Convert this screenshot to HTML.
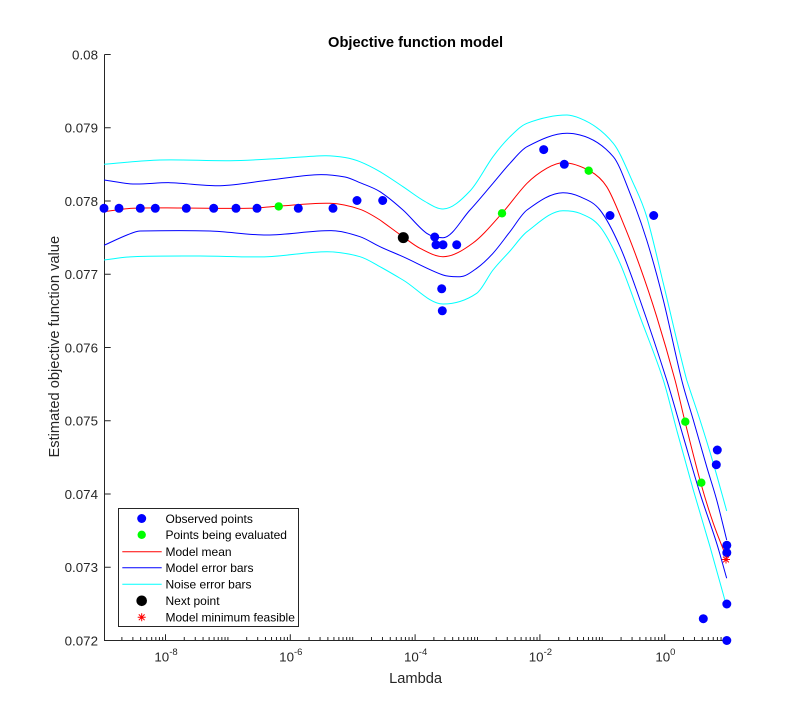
<!DOCTYPE html>
<html><head><meta charset="utf-8"><style>
html,body{margin:0;padding:0;background:#fff;}
svg{display:block;}
text{font-family:"Liberation Sans",Arial,sans-serif;fill:#262626;}
</style></head><body>
<svg width="803" height="720" viewBox="0 0 803 720" xmlns="http://www.w3.org/2000/svg">
<rect width="803" height="720" fill="#fff"/>
<g stroke="#262626" stroke-width="1" fill="none">
<path d="M104.5,54.5 V640.5 H727"/>
<path d="M104.5,54.5h6.2M104.5,127.75h6.2M104.5,201h6.2M104.5,274.25h6.2M104.5,347.5h6.2M104.5,420.75h6.2M104.5,494h6.2M104.5,567.25h6.2"/>
<path d="M165.5,640.5v-6.2M290.3,640.5v-6.2M415.1,640.5v-6.2M539.9,640.5v-6.2M664.7,640.5v-6.2"/>
<path d="M121.88,640.5v-3.5M132.87,640.5v-3.5M140.67,640.5v-3.5M146.72,640.5v-3.5M151.66,640.5v-3.5M155.83,640.5v-3.5M159.45,640.5v-3.5M162.64,640.5v-3.5
M184.28,640.5v-3.5M195.27,640.5v-3.5M203.07,640.5v-3.5M209.12,640.5v-3.5M214.06,640.5v-3.5M218.23,640.5v-3.5M221.85,640.5v-3.5M225.04,640.5v-3.5
M227.9,640.5v-3.5M246.68,640.5v-3.5M257.67,640.5v-3.5M265.47,640.5v-3.5M271.52,640.5v-3.5M276.46,640.5v-3.5M280.63,640.5v-3.5M284.25,640.5v-3.5M287.44,640.5v-3.5
M309.08,640.5v-3.5M320.07,640.5v-3.5M327.87,640.5v-3.5M333.92,640.5v-3.5M338.86,640.5v-3.5M343.03,640.5v-3.5M346.65,640.5v-3.5M349.84,640.5v-3.5
M352.7,640.5v-3.5M371.48,640.5v-3.5M382.47,640.5v-3.5M390.27,640.5v-3.5M396.32,640.5v-3.5M401.26,640.5v-3.5M405.43,640.5v-3.5M409.05,640.5v-3.5M412.24,640.5v-3.5
M433.88,640.5v-3.5M444.87,640.5v-3.5M452.67,640.5v-3.5M458.72,640.5v-3.5M463.66,640.5v-3.5M467.83,640.5v-3.5M471.45,640.5v-3.5M474.64,640.5v-3.5
M477.5,640.5v-3.5M496.28,640.5v-3.5M507.27,640.5v-3.5M515.07,640.5v-3.5M521.12,640.5v-3.5M526.06,640.5v-3.5M530.23,640.5v-3.5M533.85,640.5v-3.5M537.04,640.5v-3.5
M558.68,640.5v-3.5M569.67,640.5v-3.5M577.47,640.5v-3.5M583.52,640.5v-3.5M588.46,640.5v-3.5M592.63,640.5v-3.5M596.25,640.5v-3.5M599.44,640.5v-3.5
M602.3,640.5v-3.5M621.08,640.5v-3.5M632.07,640.5v-3.5M639.87,640.5v-3.5M645.92,640.5v-3.5M650.86,640.5v-3.5M655.03,640.5v-3.5M658.65,640.5v-3.5M661.84,640.5v-3.5
M683.48,640.5v-3.5M694.47,640.5v-3.5M702.27,640.5v-3.5M708.32,640.5v-3.5M713.26,640.5v-3.5M717.43,640.5v-3.5M721.05,640.5v-3.5M724.24,640.5v-3.5"/>
</g>
<g font-size="13.33" text-anchor="end">
<text x="98" y="59.3">0.08</text>
<text x="98" y="132.55">0.079</text>
<text x="98" y="205.8">0.078</text>
<text x="98" y="279.05">0.077</text>
<text x="98" y="352.3">0.076</text>
<text x="98" y="425.55">0.075</text>
<text x="98" y="498.8">0.074</text>
<text x="98" y="572.05">0.073</text>
<text x="98" y="645.3">0.072</text>
</g>
<g font-size="13.33" text-anchor="middle">
<text x="166" y="661.5">10<tspan font-size="9.5" dy="-6.5">-8</tspan></text>
<text x="290.8" y="661.5">10<tspan font-size="9.5" dy="-6.5">-6</tspan></text>
<text x="415.6" y="661.5">10<tspan font-size="9.5" dy="-6.5">-4</tspan></text>
<text x="540.4" y="661.5">10<tspan font-size="9.5" dy="-6.5">-2</tspan></text>
<text x="665.4" y="661.5">10<tspan font-size="9.5" dy="-6.5">0</tspan></text>
</g>
<text x="415.6" y="683" font-size="14.67" text-anchor="middle">Lambda</text>
<text x="415.6" y="47" font-size="14.67" font-weight="bold" text-anchor="middle" style="fill:#000">Objective function model</text>
<text transform="translate(59,346.7) rotate(-90)" font-size="14.67" text-anchor="middle">Estimated objective function value</text>

<g fill="none" stroke-width="1">
<path stroke="#00ffff" d="M104,164.3 C122.67,162.87 141.33,160.53 160,160 C183.33,159.33 206.67,160.99 230,160.7 C246.67,160.49 263.33,159.38 280,158.5 C295,157.71 310,155.93 325,155.7 C331.67,155.6 338.33,156.36 345,157.5 C350,158.36 355,159.67 360,161.7 C366.67,164.41 373.33,167.83 380,171.7 C387.67,176.15 395.33,181.63 403,186.7 C410.33,191.55 417.67,197.41 425,201.5 C431,204.85 437,209 443,209 C452,209 461,200.41 470,191 C477.67,182.98 485.33,167.11 493,156.7 C498.67,149.01 504.33,142.27 510,136.7 C515.67,131.14 521.33,125.46 527,123.3 C540.33,118.22 553.67,115 567,115 C571.33,115 575.67,116.57 580,118.3 C591.1,122.74 602.2,129.76 613.3,143.3 C619.97,151.43 626.63,168.65 633.3,183.3 C637.77,193.12 642.23,201.81 646.7,216.7 C652.23,235.14 657.77,260.71 663.3,283.3 C671.1,315.14 678.9,350.94 686.7,380 C691.13,393.88 695.57,406.12 700,420 C704.43,433.88 708.87,448.19 713.3,463.3 C717.77,478.52 722.23,495.1 726.7,511"/>
<path stroke="#00ffff" d="M104,260 C113.67,258.9 123.33,257.1 133,256.7 C155.33,255.77 177.67,256 200,256 C222.33,256 244.67,257.46 267,256.7 C287,256.02 307,251.7 327,251.7 C338,251.7 349,253.59 360,256.7 C366.67,258.59 373.33,263.09 380,266.7 C387.67,270.86 395.33,275.46 403,280 C416.33,287.89 429.67,304 443,304 C454.23,304 465.47,300.94 476.7,293.3 C482.13,289.61 487.57,276.9 493,270 C498.67,262.8 504.33,257.38 510,251 C515.67,244.62 521.33,236.01 527,231.7 C539,222.58 551,210.7 563,210.7 C568.67,210.7 574.33,210.85 580,213.3 C586.67,216.18 593.33,218.37 600,226.7 C606.67,235.03 613.33,248.3 620,263.3 C626.67,278.3 633.33,298.73 640,316.7 C647.77,337.63 655.53,356.02 663.3,380 C667.77,393.79 672.23,413.62 676.7,430 C682.23,450.29 687.77,470.61 693.3,490 C698.87,509.51 704.43,527.25 710,546.7 C715.57,566.15 721.13,586.7 726.7,606.7"/>
<path stroke="#0000ff" d="M104,180 C113.67,181.33 123.33,183.6 133,184 C145.33,184.5 157.67,182.46 170,182.7 C186.67,183.03 203.33,186.15 220,185.7 C236.67,185.25 253.33,181.89 270,180 C285.67,178.22 301.33,175.33 317,174.7 C326.33,174.33 335.67,175.26 345,177 C350,177.93 355,180.6 360,182.7 C366.67,185.5 373.33,187.47 380,191.7 C387.67,196.57 395.33,203.17 403,210 C410.9,217.04 418.8,227.83 426.7,233.3 C432.13,237.06 437.57,237.7 443,237.7 C452,237.7 461,219.79 470,210 C477.67,201.66 485.33,192.25 493,183.3 C498.67,176.68 504.33,169.4 510,163.3 C515.67,157.2 521.33,149.68 527,146.7 C540.33,139.69 553.67,133.3 567,133.3 C571.33,133.3 575.67,133.92 580,135 C591.1,137.78 602.2,143.76 613.3,156.7 C618.87,163.19 624.43,179.42 630,193.3 C635.57,207.18 641.13,222.16 646.7,240 C652.23,257.73 657.77,277.87 663.3,300 C669.43,324.53 675.57,355.47 681.7,380 C685.57,395.47 689.43,406.59 693.3,420 C697.77,435.49 702.23,451.43 706.7,466.7 C710.03,478.1 713.37,487.78 716.7,500 C720.03,512.22 723.37,526.67 726.7,540"/>
<path stroke="#0000ff" d="M104,245.3 C111.67,241.87 119.33,238.04 127,235 C131.33,233.28 135.67,231.21 140,231 C163.33,230.53 186.67,230.27 210,231 C229,231.6 248,235.05 267,235 C289,234.95 311,230.3 333,230.7 C342,230.87 351,233.64 360,236.7 C366.67,238.97 373.33,243.6 380,246.7 C387.67,250.27 395.33,253.26 403,256.7 C416.33,262.69 429.67,270.32 443,275 C448.67,276.99 454.33,276.7 460,276.7 C465.57,276.7 471.13,272.25 476.7,268.3 C482.13,264.45 487.57,259.27 493,253.3 C498.67,247.07 504.33,238.92 510,231.7 C515.67,224.48 521.33,214.17 527,210 C539,201.17 551,192.7 563,192.7 C568.67,192.7 574.33,194.05 580,196.7 C586.67,199.82 593.33,201.67 600,210 C606.67,218.33 613.33,231.7 620,246.7 C626.67,261.7 633.33,280.97 640,300 C648.9,325.4 657.8,351.9 666.7,380 C672.23,397.47 677.77,417.88 683.3,436.7 C688.87,455.64 694.43,475.53 700,493.3 C705.57,511.07 711.13,525.57 716.7,543.3 C720.03,553.91 723.37,566.63 726.7,578.3"/>
<path stroke="#ff0000" d="M104,211.7 C113.67,210.57 123.33,208.77 133,208.3 C148.67,207.54 164.33,208 180,208 C203.33,208 226.67,208.71 250,208.3 C259,208.14 268,206.86 277,206.3 C294.67,205.2 312.33,202.66 330,203.3 C340,203.66 350,205.96 360,209.3 C366.67,211.53 373.33,215.75 380,220 C387.67,225.42 395.33,231.28 403,236.7 C408.67,240.71 414.33,245.47 420,248.3 C427.67,252.13 435.33,256.7 443,256.7 C453,256.7 463,250.36 473,243 C482.67,235.89 492.33,223.99 502,213.3 C510.33,204.09 518.67,191.69 527,183.3 C533.57,176.69 540.13,172.06 546.7,168.3 C552.13,165.19 557.57,162.7 563,162.7 C572,162.7 581,166.06 590,171 C595.57,174.06 601.13,177.96 606.7,186.7 C612.23,195.39 617.77,210.01 623.3,223.3 C628.87,236.67 634.43,251.13 640,266.7 C645.57,282.27 651.13,298.68 656.7,316.7 C662.8,336.45 668.9,357.37 675,380 C678.33,392.37 681.67,408.38 685,421.7 C690.23,442.61 695.47,463.91 700.7,482.7 C704.9,497.78 709.1,511.14 713.3,523.3 C717.77,536.24 722.23,546.43 726.7,558"/>
</g>

<g fill="#0000ff">
<circle cx="104" cy="208.3" r="4.5"/><circle cx="119" cy="208.3" r="4.5"/><circle cx="140.3" cy="208.3" r="4.5"/><circle cx="155.3" cy="208.3" r="4.5"/>
<circle cx="186.3" cy="208.3" r="4.5"/><circle cx="213.7" cy="208.3" r="4.5"/><circle cx="236" cy="208.3" r="4.5"/><circle cx="257" cy="208.3" r="4.5"/>
<circle cx="298.3" cy="208.3" r="4.5"/><circle cx="333" cy="208.3" r="4.5"/><circle cx="357" cy="200.5" r="4.5"/><circle cx="382.7" cy="200.5" r="4.5"/>
<circle cx="434.7" cy="237" r="4.5"/><circle cx="436" cy="244.8" r="4.5"/><circle cx="443" cy="244.8" r="4.5"/><circle cx="456.7" cy="244.8" r="4.5"/>
<circle cx="441.7" cy="288.8" r="4.5"/><circle cx="442.3" cy="310.8" r="4.5"/><circle cx="543.7" cy="149.6" r="4.5"/><circle cx="564.3" cy="164.3" r="4.5"/>
<circle cx="610" cy="215.5" r="4.5"/><circle cx="653.7" cy="215.5" r="4.5"/><circle cx="717.3" cy="450" r="4.5"/><circle cx="716.3" cy="464.7" r="4.5"/>
<circle cx="726.8" cy="545.3" r="4.5"/><circle cx="726.8" cy="552.7" r="4.5"/><circle cx="726.8" cy="604" r="4.5"/><circle cx="703.3" cy="618.7" r="4.5"/>
<circle cx="726.8" cy="640.5" r="4.5"/>
</g>
<g fill="#00ff00">
<circle cx="278.7" cy="206.4" r="4.2"/><circle cx="502" cy="213.3" r="4.2"/><circle cx="588.7" cy="170.7" r="4.2"/>
<circle cx="685.3" cy="421.7" r="4.2"/><circle cx="701.3" cy="482.7" r="4.2"/>
</g>
<circle cx="403.3" cy="237.6" r="5.5" fill="#000"/>
<g stroke="#ff0000" stroke-width="1" fill="none" transform="translate(726,559.5)">
<path d="M-4,0H4M0,-4V4M-2.9,-2.9L2.9,2.9M-2.9,2.9L2.9,-2.9"/>
</g>

<rect x="118.5" y="508.5" width="180" height="118" fill="#fff" stroke="#262626" stroke-width="1"/>
<circle cx="141.7" cy="518.5" r="4.5" fill="#0000ff"/>
<circle cx="141.7" cy="534.8" r="4.2" fill="#00ff00"/>
<path d="M122.3,551.7H161.7" stroke="#ff0000" stroke-width="1"/>
<path d="M122.3,567.8H161.7" stroke="#0000ff" stroke-width="1"/>
<path d="M122.3,584.3H161.7" stroke="#00ffff" stroke-width="1"/>
<circle cx="141.7" cy="600.8" r="5.3" fill="#000"/>
<g stroke="#ff0000" stroke-width="1" fill="none" transform="translate(141.7,617.3)">
<path d="M-4,0H4M0,-4V4M-2.9,-2.9L2.9,2.9M-2.9,2.9L2.9,-2.9"/>
</g>
<g font-size="12">
<text x="165.5" y="522.8" style="fill:#000">Observed points</text>
<text x="165.5" y="539.1" style="fill:#000">Points being evaluated</text>
<text x="165.5" y="556" style="fill:#000">Model mean</text>
<text x="165.5" y="572.1" style="fill:#000">Model error bars</text>
<text x="165.5" y="588.6" style="fill:#000">Noise error bars</text>
<text x="165.5" y="605.1" style="fill:#000">Next point</text>
<text x="165.5" y="621.6" style="fill:#000">Model minimum feasible</text>
</g>
</svg>
</body></html>
